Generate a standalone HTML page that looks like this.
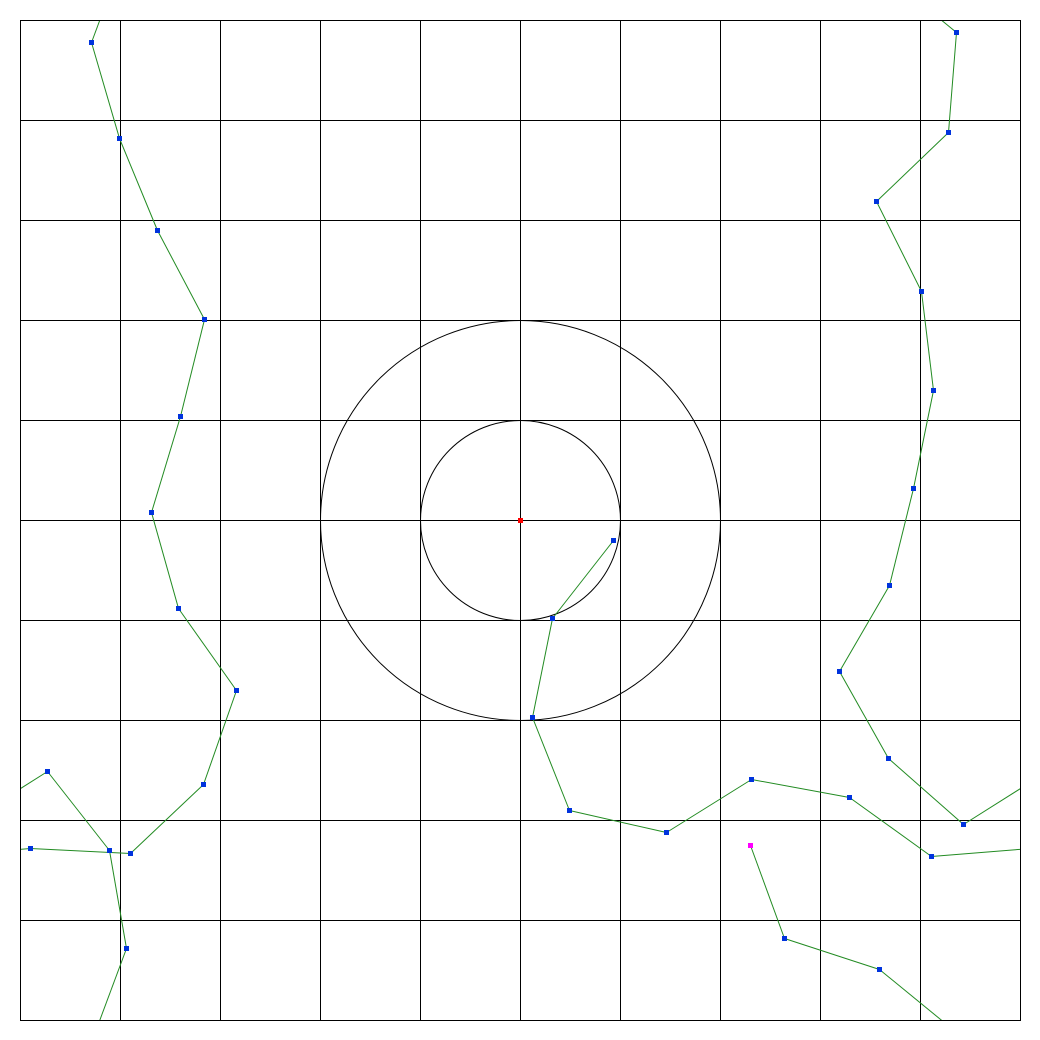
<!DOCTYPE html>
<html><head><meta charset="utf-8"><style>html,body{margin:0;padding:0;background:#fff;overflow:hidden;width:1040px;height:1040px;}svg{display:block;}</style></head>
<body>
<svg id="chart" width="1040" height="1040" xmlns="http://www.w3.org/2000/svg">
<defs><clipPath id="clip"><rect x="20" y="20" width="1000" height="1000"/></clipPath></defs>
<rect x="0" y="0" width="1040" height="1040" fill="#fff"/>
<g id="grid" shape-rendering="crispEdges"></g>
<g id="circles"></g>
<g id="path" clip-path="url(#clip)"></g>
<g id="marks"></g>
</svg>
<script>
const xs = [2.30,2.64,3.59,4.36,4.28,3.56,4.01,4.13,3.93,3.69,3.19,3.68,4.43,5.27,5.89,6.06,5.71,5.99,6.37,6.84,6.60,6.31,6.58,7.16,6.83,6.10,5.10,4.11,3.29,2.31,1.46,0.49,0.12,0.32,0.93];
const ys = [-3.25,-4.18,-4.49,-5.12,-6.12,-6.81,-7.71,-8.70,-9.68,-10.65,-11.51,-12.38,-13.04,-12.51,-13.30,-14.28,-15.22,-16.18,-17.10,-17.99,-18.96,-19.92,-20.88,-21.70,-22.64,-23.33,-23.28,-23.36,-22.77,-22.59,-23.12,-22.90,-21.97,-20.98,-20.20];
const radii = [1, 2];
const worldSize = 10;
const NS = 'http://www.w3.org/2000/svg';
const sx = v => 520 + v * 100;
const sy = v => 520 - v * 100;
const wrap = v => ((v + 5) % worldSize + worldSize) % worldSize - 5;
function mk(tag, attrs, parent){ const e = document.createElementNS(NS, tag); for (const k in attrs) e.setAttribute(k, attrs[k]); parent.appendChild(e); return e; }
const grid = document.getElementById('grid');
for (let i = -5; i <= 5; i++) {
  const v = mk('line', {x1: sx(i) + 0.5, y1: 20, x2: sx(i) + 0.5, y2: 1021, stroke: '#000', 'stroke-width': 1}, grid);
  
  
  const h = mk('line', {x1: 20, y1: sy(i) + 0.5, x2: 1021, y2: sy(i) + 0.5, stroke: '#000', 'stroke-width': 1}, grid);
  
  
}
const circ = document.getElementById('circles');
radii.forEach(r => {
  const c = mk('circle', {cx: sx(0) + 0.5, cy: sy(0) + 0.5, r: r * 100, fill: 'none', stroke: '#000', 'stroke-width': 1}, circ);
  
  
});
const pg = document.getElementById('path');
for (let i = 0; i < xs.length - 1; i++) {
  const bx = wrap(xs[i]) - xs[i], by = wrap(ys[i]) - ys[i];
  for (let dx = -1; dx <= 1; dx++) for (let dy = -1; dy <= 1; dy++) {
    const ox = bx + dx * worldSize, oy = by + dy * worldSize;
    const l = mk('line', {x1: sx(xs[i] + ox) + 0.5, y1: sy(ys[i] + oy) + 0.5, x2: sx(xs[i+1] + ox) + 0.5, y2: sy(ys[i+1] + oy) + 0.5, stroke: '#228b22', 'stroke-width': 1}, pg);
    
    
  }
}
const mg = document.getElementById('marks');
const center = mk('rect', {x: sx(0) - 2, y: sy(0) - 2, width: 5, height: 5, fill: '#ff0000'}, mg);


for (let i = 0; i < xs.length; i++) {
  const px = Math.round(sx(wrap(xs[i]))), py = Math.round(sy(wrap(ys[i])));
  const m = mk('rect', {x: px - 2, y: py - 2, width: 5, height: 5, fill: i === 0 ? '#ff00ff' : '#0033dd'}, mg);
  
  
}
const border = mk('rect', {x: 20.5, y: 20.5, width: 1000, height: 1000, fill: 'none', stroke: '#000', 'stroke-width': 1, 'shape-rendering': 'crispEdges'}, document.getElementById('chart'));


</script>
</body></html>
